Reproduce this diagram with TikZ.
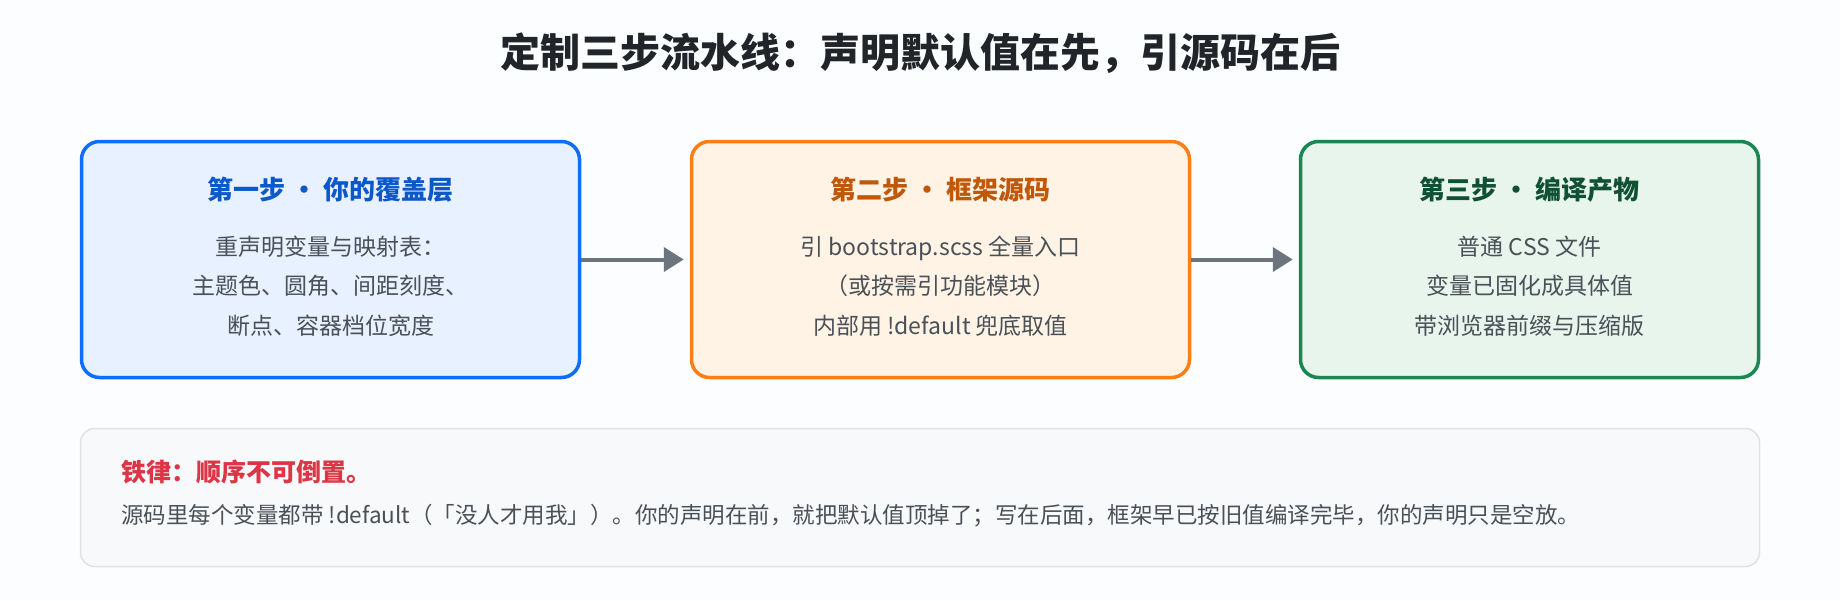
\documentclass[tikz,border=0pt]{standalone}
\usepackage{fontspec}
\setmainfont{Noto Sans CJK SC}
\usetikzlibrary{arrows.meta}

\definecolor{pagebg}{HTML}{FCFDFE}
\definecolor{titlecol}{HTML}{212529}
\definecolor{bodycol}{HTML}{495057}
\definecolor{blueline}{HTML}{0D6EFD}
\definecolor{bluefill}{HTML}{E8F1FF}
\definecolor{bluehead}{HTML}{0A58CA}
\definecolor{orangeline}{HTML}{FD7E14}
\definecolor{orangefill}{HTML}{FFF3E5}
\definecolor{orangehead}{HTML}{C0580A}
\definecolor{greenline}{HTML}{198754}
\definecolor{greenfill}{HTML}{E8F5EC}
\definecolor{greenhead}{HTML}{0F5132}
\definecolor{arrowcol}{HTML}{6C757D}
\definecolor{notefill}{HTML}{F8F9FA}
\definecolor{noteline}{HTML}{DEE2E6}
\definecolor{rulered}{HTML}{DC3545}

\begin{document}
\begin{tikzpicture}[x=1pt,y=1pt,
    stepbox/.style={draw, line width=3.5pt, rounded corners=18pt, minimum height=236pt, inner sep=0pt},
    stephead/.style={inner sep=0pt, font=\fontsize{26}{30}\selectfont\bfseries},
    stepbody/.style={inner sep=0pt, align=center, text=bodycol, font=\fontsize{23}{39.5}\selectfont},
    flow/.style={-{Triangle[length=20pt,width=24pt]}, line width=4pt, draw=arrowcol, shorten >=6pt}]

        \fill[pagebg] (0,0) rectangle (1840,-600);
        \useasboundingbox (0,0) rectangle (1840,-600);

        \node[inner sep=0pt, text=titlecol, font=\fontsize{40}{46}\selectfont\bfseries] at (920,-53) (title) {定制三步流水线：声明默认值在先，引源码在后};

        % the three steps
        \node[stepbox, draw=blueline, fill=bluefill, minimum width=498pt] at (330.5,-259.5) (stepone) {};
        \node[stephead, text=bluehead] at (330.5,-190) (headone) {第一步 · 你的覆盖层};
        \node[stepbody] at (330.5,-286) (bodyone) {重声明变量与映射表：\\主题色、圆角、间距刻度、\\断点、容器档位宽度};

        \node[stepbox, draw=orangeline, fill=orangefill, minimum width=498pt] at (940.5,-259.5) (steptwo) {};
        \node[stephead, text=orangehead] at (940.5,-190) (headtwo) {第二步 · 框架源码};
        \node[stepbody] at (940.5,-286) (bodytwo) {引 bootstrap.scss 全量入口\\（或按需引功能模块）\\内部用 !default 兜底取值};

        \node[stepbox, draw=greenline, fill=greenfill, minimum width=458pt] at (1529.5,-259.5) (stepthree) {};
        \node[stephead, text=greenhead] at (1529.5,-190) (headthree) {第三步 · 编译产物};
        \node[stepbody] at (1529.5,-286) (bodythree) {普通 CSS 文件\\变量已固化成具体值\\带浏览器前缀与压缩版};

        \draw[flow] (stepone.east) -- (steptwo.west);
        \draw[flow] (steptwo.east) -- (stepthree.west);

        % the rule underneath
        \node[draw=noteline, fill=notefill, line width=1.5pt, rounded corners=14pt, minimum width=1679pt, minimum height=138pt, inner sep=0pt] at (920,-497.5) (note) {};
        \node[anchor=west, inner sep=0pt, text=rulered, font=\fontsize{25}{30}\selectfont\bfseries] at (121,-472) (rulehead) {铁律：顺序不可倒置。};
        \node[anchor=west, inner sep=0pt, text=bodycol, font=\fontsize{22.5}{28}\selectfont] at (121,-516) (ruletext) {源码里每个变量都带 !default（「没人才用我」）。你的声明在前，就把默认值顶掉了；写在后面，框架早已按旧值编译完毕，你的声明只是空放。};

\end{tikzpicture}
\end{document}
